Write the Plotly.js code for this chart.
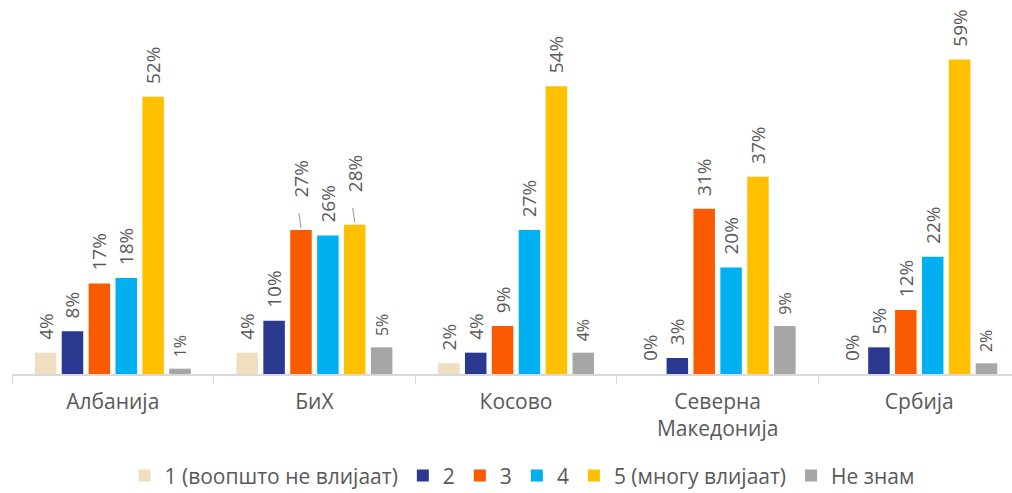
<!DOCTYPE html>
<html><head><meta charset="utf-8">
<script src="https://cdn.plot.ly/plotly-3.0.1.min.js"></script>
<style>html,body{margin:0;padding:0;background:#fff}#chart{width:1012px;height:493px}</style>
</head><body><div id="chart"></div>
<script>
const categories = ["Албанија", "БиХ", "Косово", "Северна<br>Македонија", "Србија"];
const seriesNames = ["1 (воопшто не влијаат)", "2", "3", "4", "5 (многу влијаат)", "Не знам"];
const s1 = [4, 4, 2, 0, 0];
const s2 = [8, 10, 4, 3, 5];
const s3 = [17, 27, 9, 31, 12];
const s4 = [18, 26, 27, 20, 22];
const s5 = [52, 28, 54, 37, 59];
const s6 = [1, 5, 4, 9, 2];
const seriesValues = [s1, s2, s3, s4, s5, s6];
const colors = ["#F0DEC0", "#2B388F", "#FA5A00", "#00B0F0", "#FFC000", "#A6A6A6"];
const labelSizes = [19, 19, 19, 19, 19, 16];
// labels moved up with a leader line: [series index, category index]
const leaderLabels = [[2, 1], [4, 1]];
const FONT = "Open Sans, sans-serif";
const PAD = "\u00A0\u00A0";
const LONGPAD = "\u00A0\u00A0\u00A0\u00A0\u00A0\u00A0";

const nSeries = seriesValues.length;
const groupWidth = 0.8;
const slot = groupWidth / nSeries;

const isLeader = (i, j) => leaderLabels.some(p => p[0] === i && p[1] === j);

const traces = seriesValues.map((vals, i) => ({
  type: "bar",
  name: seriesNames[i],
  x: categories,
  y: vals,
  marker: {color: colors[i]},
  text: vals.map((v, j) => (isLeader(i, j) ? LONGPAD : PAD) + v + "%"),
  textposition: "outside",
  textangle: -90,
  constraintext: "none",
  cliponaxis: false,
  textfont: {family: FONT, size: labelSizes[i], color: "#595959"},
  hoverinfo: "none"
}));

const shapes = leaderLabels.map(([i, j]) => {
  const xc = j - groupWidth / 2 + slot * (i + 0.5);
  const v = seriesValues[i][j];
  return {type: "line", xref: "x", yref: "y",
          x0: xc, x1: xc - 0.01, y0: v + 0.4, y1: v + 3.2,
          line: {color: "#A6A6A6", width: 1.2}};
});

const layout = {
  width: 1012, height: 493,
  margin: {l: 12, r: 0, t: 10, b: 119, autoexpand: false},
  barmode: "group",
  bargap: 0.2,
  bargroupgap: 0.2,
  paper_bgcolor: "#fff",
  plot_bgcolor: "#fff",
  showlegend: true,
  shapes: shapes,
  legend: {orientation: "h", x: 0.51, xanchor: "center", y: -0.28, yanchor: "middle",
           font: {family: FONT, size: 21, color: "#595959"},
           itemwidth: 30, traceorder: "normal"},
  xaxis: {
    type: "category",
    range: [-0.5, 4.46],
    showline: true, linecolor: "#D9D9D9", linewidth: 1.5,
    ticks: "outside", tickson: "boundaries", ticklen: 8, tickcolor: "#D9D9D9",
    ticklabelstandoff: 8,
    tickfont: {family: FONT, size: 21, color: "#595959"},
    showgrid: false, zeroline: false
  },
  yaxis: {
    range: [0, 68.3],
    visible: false, showgrid: false, zeroline: false
  }
};
Plotly.newPlot("chart", traces, layout, {staticPlot: true});
</script></body></html>
